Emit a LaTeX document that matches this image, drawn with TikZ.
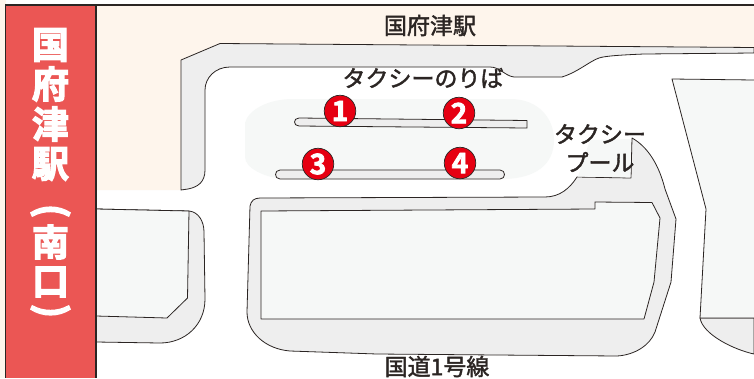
\documentclass[tikz,border=0pt]{standalone}
\usepackage{fontspec}
\setmainfont{Noto Sans CJK JP}
\newfontfamily\sidefont{Noto Sans CJK JP Bold}
\newcommand\heavy[2]{\special{pdf:code q 2 Tr #1 w}#2\special{pdf:code Q}}
\definecolor{cream}{HTML}{FEF5EC}
\definecolor{walk}{HTML}{EEEEEE}
\definecolor{lot}{HTML}{F6F8F7}
\definecolor{ink}{HTML}{2B2523}
\definecolor{band}{HTML}{EB5654}
\definecolor{pin}{HTML}{E60012}
\tikzset{
  outline/.style={draw=ink,line width=0.8pt,line join=round},
  label/.style={text=ink,font=\fontsize{23}{23}\selectfont,inner sep=0pt},
  sidetext/.style={text=white,font=\fontsize{37}{37}\selectfont\sidefont,inner sep=0pt},
  sideparen/.style={text=white,font=\fontsize{38}{38}\selectfont\sidefont,inner sep=0pt,rotate=-90},
  pinmark/.style={circle,fill=pin,draw=ink,line width=0.7pt,minimum size=31.5pt,inner sep=0pt,text=white,font=\fontsize{28}{28}\selectfont\sidefont}
}
\begin{document}
\begin{tikzpicture}[x=1pt,y=-1pt]
\useasboundingbox (0,0) rectangle (754,378);
\fill[white] (0,0) rectangle (754,378);
\fill[cream] (0,0) rectangle (6,378);
% station ground
\fill[cream] (96,5) -- (754,5) -- (754,47) -- (220,44) -- (181,60) -- (181,190) -- (96,190) -- cycle;
% sidewalk north
\path[fill=walk,outline] (181,190) -- (181,60) -- (220,43.5) -- (754,47.5) -- (754,53) -- (644,54)
  .. controls (620,55) and (605,56) .. (599,58)
  .. controls (590,61) and (578,72) .. (562,77) -- (514,77)
  .. controls (505,76) and (500,67) .. (490,67) -- (230,67)
  .. controls (215,67) and (205,78) .. (205,90) -- (205,170)
  .. controls (205,182) and (198,187) .. (188,189) -- cycle;
% platform area
\fill[lot] (293,99) -- (510,99) .. controls (540,99) and (554,120) .. (554,140)
  .. controls (554,165) and (535,178) .. (505,179) -- (285,179)
  .. controls (265,178) and (245,168) .. (245,157) -- (245,123)
  .. controls (248,110) and (268,99) .. (293,99) -- cycle;
% lower-left block
\path[fill=walk,outline] (96,209) -- (189,211) .. controls (199,212) and (204,222) .. (204,232) -- (205,299)
  .. controls (205,325) and (185,343) .. (160,343) -- (96,342) -- cycle;
\path[fill=lot,outline] (96,209) -- (189,211) -- (187.5,298) -- (167,318) -- (96,316) -- cycle;
% central block
\path[fill=walk,outline] (260,198) -- (545,197) .. controls (560,197) and (570,188) .. (577,177) -- (631,178) -- (632,138)
  .. controls (648,147) and (659,165) .. (665,189) -- (676,219) -- (671,282) -- (655,332)
  .. controls (650,345) and (635,355) .. (617,356) -- (377,354) -- (290,351)
  .. controls (265,349) and (247,332) .. (247,312) -- (250,206)
  .. controls (251,201) and (254,198) .. (260,198) -- cycle;
\path[fill=lot,outline] (261,211) -- (595,209) -- (595,202) -- (652,202.5) -- (660,218) -- (654,282) -- (644,319) -- (261,319) -- cycle;
% taxi pool light
\fill[lot] (630.6,139) -- (630.4,177.4) -- (578,176.6) -- (590,140) -- cycle;
% east block
\path[fill=walk,outline] (700,318) -- (754,318) -- (754,354) .. controls (735,350) and (703,335) .. (700,318) -- cycle;
\path[fill=lot,outline] (754,80) -- (672,79) -- (706,209) -- (700,318) -- (754,318);
% bays
\path[fill=walk,outline] (299,118) -- (527,120.5) -- (527,128) -- (299,126) .. controls (293,126) and (293,118) .. (299,118) -- cycle;
\path[fill=walk,outline] (280,170) -- (500,170) .. controls (506,170) and (506,179) .. (500,179) -- (280,179) .. controls (274,179) and (274,170) .. (280,170) -- cycle;
% pins
\node[pinmark] (p1) at (340,111) {\heavy{0.8}{1}};
\node[pinmark] (p2) at (459,113) {\heavy{0.8}{2}};
\node[pinmark] (p3) at (318,164) {\heavy{0.8}{3}};
\node[pinmark] (p4) at (460,163) {\heavy{0.8}{4}};
% labels
\node[label] (station) at (430,25.5) {\heavy{0.4}{国府津駅}};
\node[label] (stand) at (423,78) {\heavy{0.4}{タクシーのりば}};
\node[label] (pool1) at (600,134) {\heavy{0.4}{タクシー}};
\node[label] (pool2) at (600,162) {\heavy{0.4}{プール}};
\node[label] (road) at (437,366.5) {\heavy{0.4}{国道1号線}};
% band
\fill[band] (6,5) rectangle (96,378);
\draw[ink,line width=1.4pt] (5,5) -- (754,5);
\draw[ink,line width=1.4pt] (5.5,5) -- (5.5,378);
\draw[ink,line width=1.6pt] (96,5) -- (96,378);
\node[sidetext] (s1) at (50.5,45) {\heavy{1.3}{国}};
\node[sidetext] (s2) at (50.5,84) {\heavy{1.3}{府}};
\node[sidetext] (s3) at (50.5,124) {\heavy{1.3}{津}};
\node[sidetext] (s4) at (50.5,164) {\heavy{1.3}{駅}};
\node[sideparen] (s5) at (50.5,211) {\heavy{1.3}{(}};
\node[sidetext] (s6) at (50.5,242) {\heavy{1.3}{南}};
\node[sidetext] (s7) at (50.5,282) {\heavy{1.3}{口}};
\node[sideparen] (s8) at (50.5,311) {\heavy{1.3}{)}};
\end{tikzpicture}
\end{document}
